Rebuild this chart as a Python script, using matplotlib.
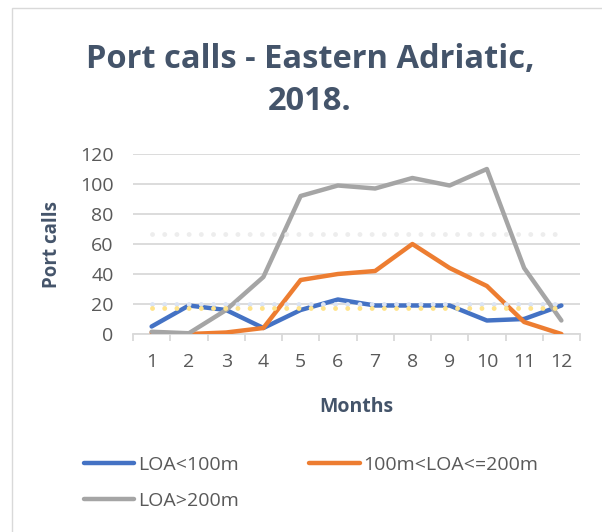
import matplotlib
matplotlib.use("Agg")
import matplotlib.pyplot as plt
from matplotlib.patches import Rectangle

# ── data ────────────────────────────────────────────────────────────
months = list(range(1, 13))
loa_small = [5, 19, 16, 4, 16, 23, 19, 19, 19, 9, 10, 19]
loa_mid = [1, 0, 1, 4, 36, 40, 42, 60, 44, 32, 8, 0]
loa_large = [1.5, 0.5, 16, 38, 92, 99, 97, 104, 99, 110, 44, 9]
# faint dotted reference levels
ref_levels = [67, 20, 17.5]

# ── style ───────────────────────────────────────────────────────────
FONT = "Open Sans"
C_TEXT = "#595959"
C_TITLE = "#44546A"
C_GRID = "#D9D9D9"
C_BLUE = "#4472C4"
C_ORANGE = "#ED7D31"
C_GRAY = "#A5A5A5"
REF_COLORS = ["#EDEDED", "#DAE3F3", "#FFE38A"]

plt.rcParams["font.family"] = FONT

fig = plt.figure(figsize=(6.02, 5.32), dpi=100)
fig.patch.set_facecolor("white")
ax = fig.add_axes([133 / 602, 1 - 334 / 532, 447 / 602, 180 / 532])

# chart border (cut off at right / bottom)
fig.add_artist(Rectangle((12 / 602, -0.2), 1.2, 1.2 - 8 / 532,
                         transform=fig.transFigure, fill=False,
                         ec=C_GRID, lw=1.0))

# series
h_blue, = ax.plot(months, loa_small, color=C_BLUE, lw=3.2,
                  solid_capstyle="round", zorder=3, label="LOA<100m")
h_orange, = ax.plot(months, loa_mid, color=C_ORANGE, lw=3.2,
                    solid_capstyle="round", zorder=3, label="100m<LOA<=200m")
h_gray, = ax.plot(months, loa_large, color=C_GRAY, lw=3.2,
                  solid_capstyle="round", zorder=3, label="LOA>200m")

# dotted reference lines drawn on top
for lvl, c in zip(ref_levels, REF_COLORS):
    ax.plot([months[0], months[-1]], [lvl, lvl], color=c, lw=3.5,
            ls=(0, (0.01, 2.5)), dash_capstyle="round", zorder=4)

# axes
ax.set_xlim(0.5, 12.5)
ax.set_ylim(0, 120)
ax.set_yticks(range(0, 121, 20))
ax.set_xticks(months)
ax.set_xticks([m + 0.5 for m in range(0, 13)], minor=True)
ax.grid(axis="y", color=C_GRID, lw=1.3)
ax.set_axisbelow(True)
for s in ["top", "right", "left"]:
    ax.spines[s].set_visible(False)
ax.spines["bottom"].set_color(C_GRID)
ax.spines["bottom"].set_linewidth(1.3)
ax.tick_params(axis="y", length=0, pad=14, labelsize=14, labelcolor=C_TEXT)
ax.tick_params(axis="x", which="major", length=0, pad=14, labelsize=14,
               labelcolor=C_TEXT)
ax.tick_params(axis="x", which="minor", length=5, width=1.3, color=C_GRID)

ax.set_xlabel("Months", fontsize=14, fontweight="bold", color=C_TITLE)
ax.set_ylabel("Port calls", fontsize=13.5, fontweight="bold", color=C_TITLE)
ax.xaxis.set_label_coords(0.5, -0.35)
ax.yaxis.set_label_coords(-0.159, 0.5)

# title
fig.text(310 / 602, 1 - 80 / 532, "Port calls - Eastern Adriatic,\n2018.",
         ha="center", va="center", fontsize=23.5, fontweight="bold",
         color=C_TITLE, linespacing=1.36)

# legend (row-major order: blue, orange / gray)
leg = fig.legend(handles=[h_blue, h_gray, h_orange],
                 loc="upper left", bbox_to_anchor=(76 / 602, 1 - 448 / 532),
                 ncol=2, frameon=False, fontsize=14, handlelength=2.6,
                 handletextpad=0.2, columnspacing=3.6, labelspacing=0.95,
                 borderaxespad=0)
for t in leg.get_texts():
    t.set_color(C_TEXT)

fig.savefig("out.png", dpi=100, facecolor="white")
